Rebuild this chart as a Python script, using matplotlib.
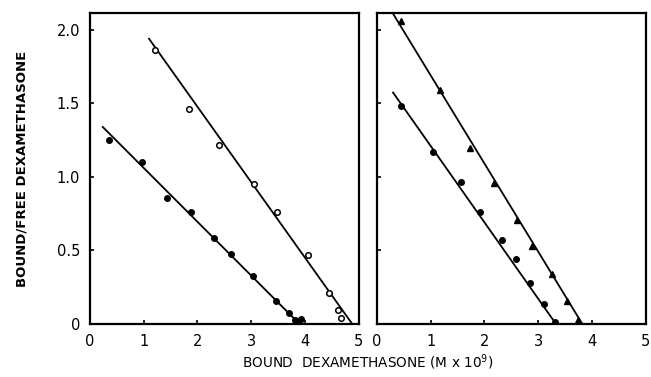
import matplotlib.pyplot as plt

# left panel: open circles (upper) and filled circles (lower)
open_x = [1.21, 1.85, 2.41, 3.06, 3.48, 4.05, 4.45, 4.62, 4.67]
open_y = [1.86, 1.465, 1.22, 0.955, 0.76, 0.467, 0.21, 0.095, 0.04]
open_fit_x = [1.10, 4.88]
open_fit_y = [1.94, 0.0]

filled_x = [0.36, 0.97, 1.43, 1.88, 2.31, 2.62, 3.04, 3.47, 3.71, 3.82, 3.88, 3.93]
filled_y = [1.25, 1.10, 0.86, 0.76, 0.585, 0.476, 0.327, 0.156, 0.073, 0.03, 0.015, 0.035]
filled_fit_x = [0.24, 3.90]
filled_fit_y = [1.34, 0.0]

# right panel: triangles (upper) and circles (lower)
tri_x = [0.44, 1.17, 1.74, 2.17, 2.61, 2.89, 3.25, 3.54, 3.73]
tri_y = [2.06, 1.59, 1.20, 0.96, 0.707, 0.533, 0.342, 0.159, 0.03]
tri_fit_x = [0.30, 3.82]
tri_fit_y = [2.11, 0.0]

circ_x = [0.45, 1.035, 1.56, 1.92, 2.32, 2.58, 2.85, 3.10, 3.32]
circ_y = [1.483, 1.17, 0.968, 0.76, 0.569, 0.442, 0.281, 0.136, 0.012]
circ_fit_x = [0.30, 3.33]
circ_fit_y = [1.574, 0.0]

xticks = [0, 1, 2, 3, 4, 5]
xticklabels = ['0', '1', '2', '3', '4', '5']
yticks = [0, 0.5, 1.0, 1.5, 2.0]
yticklabels = ['0', '0.5', '1.0', '1.5', '2.0']

plt.rcParams['font.family'] = ['DejaVu Sans']

fig = plt.figure(figsize=(6.51, 3.77), dpi=100)
ax1 = fig.add_axes([0.138, 0.1406, 0.413, 0.825])
ax2 = fig.add_axes([0.579, 0.1406, 0.413, 0.825])

ax1.plot(open_fit_x, open_fit_y, color='black', lw=1.3)
ax1.plot(open_x, open_y, 'o', ms=4, mfc='white', mec='black', mew=1.1)
ax1.plot(filled_fit_x, filled_fit_y, color='black', lw=1.3)
ax1.plot(filled_x, filled_y, 'o', ms=4, color='black')

ax2.plot(tri_fit_x, tri_fit_y, color='black', lw=1.3)
ax2.plot(tri_x, tri_y, '^', ms=4.5, color='black')
ax2.plot(circ_fit_x, circ_fit_y, color='black', lw=1.3)
ax2.plot(circ_x, circ_y, 'o', ms=4, color='black')

for ax in (ax1, ax2):
    ax.set_xlim(0, 5)
    ax.set_ylim(0, 2.115)
    ax.set_xticks(xticks)
    ax.set_yticks(yticks)
    ax.tick_params(direction='in', length=3, width=1.2, labelsize=10.5, pad=7)
    for s in ax.spines.values():
        s.set_linewidth(1.6)

ax1.set_xticklabels(xticklabels)
ax1.set_yticklabels(yticklabels)
ax2.set_xticklabels(xticklabels)
ax2.set_yticklabels([])

ax1.set_ylabel('BOUND/FREE DEXAMETHASONE', fontsize=9.5, fontweight='bold', labelpad=20)
fig.text(0.565, 0.038, r'BOUND  DEXAMETHASONE (M x 10$^9$)', fontsize=9.8, ha='center', va='center')

fig.savefig('out.png', dpi=100)
